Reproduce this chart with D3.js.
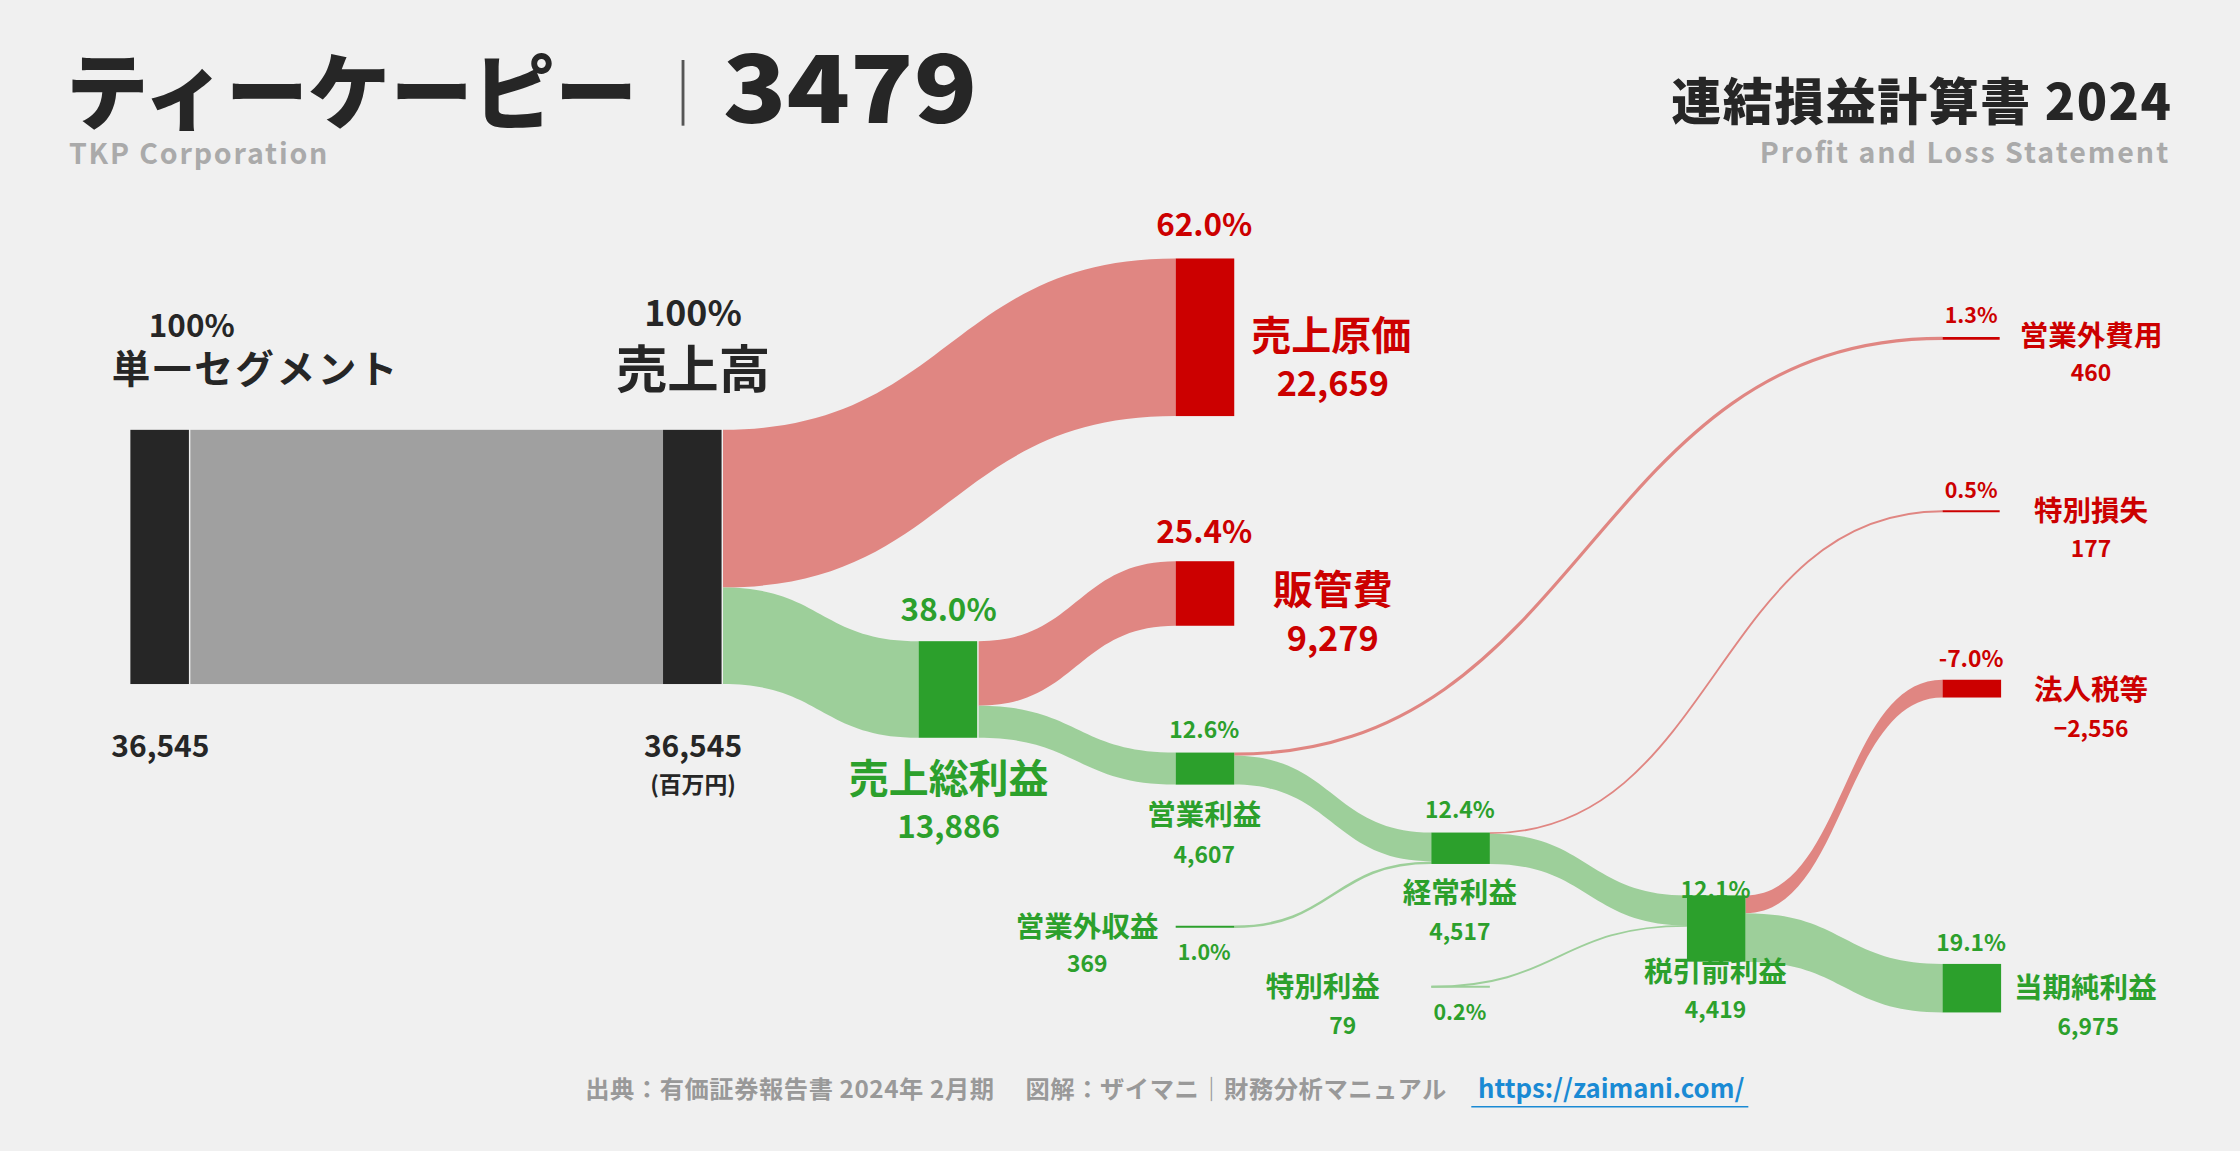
<!DOCTYPE html><html><head><meta charset="utf-8">
<script src="https://cdn.jsdelivr.net/npm/d3@7"></script>
<style>body{margin:0;background:#f0f0f0}svg{display:block}</style></head><body>
<svg id="c" width="2240" height="1151" viewBox="0 0 1568 806"></svg>
<script>
const items=["単一セグメント","売上高","売上原価","売上総利益","販管費","営業利益","営業外収益","営業外費用","経常利益","特別利益","特別損失","税引前利益","法人税等","当期純利益"];
const values=[36545,36545,22659,13886,9279,4607,369,460,4517,79,177,4419,-2556,6975];
const pcts=["100%","100%","62.0%","38.0%","25.4%","12.6%","1.0%","1.3%","12.4%","0.2%","0.5%","12.1%","-7.0%","19.1%"];
const V=Object.fromEntries(items.map((k,i)=>[k,values[i]]));
const svg=d3.select("#c");
const F="'Noto Sans CJK JP','Noto Sans',sans-serif";
svg.append("rect").attr("width",1568).attr("height",806).attr("fill","#f0f0f0");
const h=d3.scaleLinear().domain([0,36545]).range([0,178]);
const RED="#cc0000",REDL="#e08682",GRN="#2ca02c",GRNL="#9dcf9a",BLK="#262626";
function band(x0,y0,x1,y1,w,col){
  const xm=(x0+x1)/2;
  if(w<3){svg.append("path").attr("d",`M${x0},${y0+w/2}C${xm},${y0+w/2} ${xm},${y1+w/2} ${x1},${y1+w/2}`).attr("fill","none").attr("stroke",col).attr("stroke-width",Math.max(w,1.3));return;}
  svg.append("path").attr("d",`M${x0},${y0}C${xm},${y0} ${xm},${y1} ${x1},${y1}L${x1},${y1+w}C${xm},${y1+w} ${xm},${y0+w} ${x0},${y0+w}Z`).attr("fill",col);
}
function node(x,y,w,col){svg.append("rect").attr("x",x).attr("y",y).attr("width",41).attr("height",Math.max(w,1.5)).attr("fill",col);}
const hr=h(V["売上高"]),hc=h(V["売上原価"]),hg=h(V["売上総利益"]),hs=h(V["販管費"]),ho=h(V["営業利益"]),
hni=h(V["営業外収益"]),hne=h(V["営業外費用"]),hord=h(V["経常利益"]),hei=h(V["特別利益"]),hel=h(V["特別損失"]),
htax=h(-V["法人税等"]),hnet=h(V["当期純利益"]);
svg.append("rect").attr("x",133).attr("y",301).attr("width",331).attr("height",hr).attr("fill","#a0a0a0");
band(506,301,823,181,hc,REDL);
band(506,301+hc,643,449,hg,GRNL);
band(685,449,823,393,hs,REDL);
band(685,449+hs,823,527,ho,GRNL);
band(864,527,1360,237-hne/2,hne,REDL);
band(864,527+hne,1002,583,ho-hne,GRNL);
band(864,649-hni/2,1002,583+ho-hne,hni,GRNL);
band(1043,583,1360,358-hel/2,hel,REDL);
band(1043,583+hel,1181,627,hord-hel,GRNL);
band(1002,691-hei/2,1181,627+hord-hel,hei,GRNL);
band(1222,627,1360,476,htax,REDL);
band(1222,627+htax,1360,675,hnet,GRNL);
node(91,301,hr,BLK);node(464,301,hr,BLK);
node(823,181,hc,RED);node(643,449,hg,GRN);node(823,393,hs,RED);node(823,527,ho,GRN);
node(1002,583,hord,GRN);node(1181,627,htax+hnet,GRN);node(1360,476,htax,RED);node(1360,675,hnet,GRN);
svg.append("line").attr("x1",823).attr("x2",864).attr("y1",649).attr("y2",649).attr("stroke",GRN).attr("stroke-width",1.5);
svg.append("line").attr("x1",1360).attr("x2",1400).attr("y1",237).attr("y2",237).attr("stroke",RED).attr("stroke-width",2);
svg.append("line").attr("x1",1360).attr("x2",1400).attr("y1",358).attr("y2",358).attr("stroke",RED).attr("stroke-width",1.5);
svg.append("line").attr("x1",1002).attr("x2",1043).attr("y1",691).attr("y2",691).attr("stroke",GRNL).attr("stroke-width",1.5);
function t(s,x,y,size,col,anchor="middle",w=700){return svg.append("text").text(s).attr("x",x).attr("y",y).attr("font-size",size).attr("fill",col).attr("text-anchor",anchor).attr("font-weight",w).attr("font-family",F);}
const fmt=d3.format(",");
const D="#262626";
t("ティーケーピー",46,86,58,D,"start",900).attr("textLength",400).attr("lengthAdjust","spacingAndGlyphs");
svg.append("line").attr("x1",478).attr("x2",478).attr("y1",42).attr("y2",88).attr("stroke","#555").attr("stroke-width",2);
t("3479",506,86,66,D,"start",900).attr("textLength",178).attr("lengthAdjust","spacingAndGlyphs");
t("TKP Corporation",48,115,20,"#aaa","start").attr("textLength",181);
t("連結損益計算書 2024",1520,84,35,D,"end",900).attr("textLength",350);
t("Profit and Loss Statement",1518,114,20,"#aaa","end").attr("textLength",286);
t(pcts[0],134,236,22,D);t(items[0],178,268,27,D).attr("textLength",200);t(fmt(values[0]),112,530,21,D);
t(pcts[1],485,228,25,D);t(items[1],485,272,36,D);t(fmt(values[1]),485,530,21,D);t("(百万円)",485,555,16,D);
t(pcts[2],843,165,22,RED);t(items[2],876,245,28,RED,"start");t(fmt(V["売上原価"]),933,277,24,RED);
t(pcts[4],843,380,22,RED);t(items[4],933,423,28,RED);t(fmt(V["販管費"]),933,456,24,RED);
t(pcts[3],664,435,22,GRN);t(items[3],664,555,28,GRN);t(fmt(V["売上総利益"]),664,587,22,GRN);
t(pcts[5],843,517,16,GRN);t(items[5],843,578,20,GRN);t(fmt(V["営業利益"]),843,604,16,GRN);
t(pcts[8],1022,573,16,GRN);t(items[8],1022,632,20,GRN);t(fmt(V["経常利益"]),1022,658,16,GRN);
t(pcts[11],1201,629,16,GRN);t(items[11],1201,688,20,GRN);t(fmt(V["税引前利益"]),1201,713,16,GRN);
t(pcts[13],1380,666,16,GRN);t(items[13],1410,699,20,GRN,"start");t(fmt(V["当期純利益"]),1462,725,16,GRN);
t(pcts[12],1380,467,16,RED);t(items[12],1464,490,20,RED);t(fmt(V["法人税等"]),1464,516,16,RED);
t(pcts[7],1380,226,15,RED);t(items[7],1464,242,20,RED);t(fmt(V["営業外費用"]),1464,267,16,RED);
t(pcts[10],1380,349,15,RED);t(items[10],1464,365,20,RED);t(fmt(V["特別損失"]),1464,390,16,RED);
t(items[6],761,656,20,GRN);t(fmt(V["営業外収益"]),761,681,16,GRN);t(pcts[6],843,672,15,GRN);
t(items[9],926,698,20,GRN);t(fmt(V["特別利益"]),940,724,16,GRN);t(pcts[9],1022,714,15,GRN);
t("出典：有価証券報告書 2024年 2月期　 図解：ザイマニ｜財務分析マニュアル",711,769,17,"#999").attr("textLength",603);
t("https://zaimani.com/",1128,769,18,"#1a8ad4");
svg.append("line").attr("x1",1030).attr("x2",1224).attr("y1",775).attr("y2",775).attr("stroke","#1a8ad4").attr("stroke-width",1);
</script></body></html>
